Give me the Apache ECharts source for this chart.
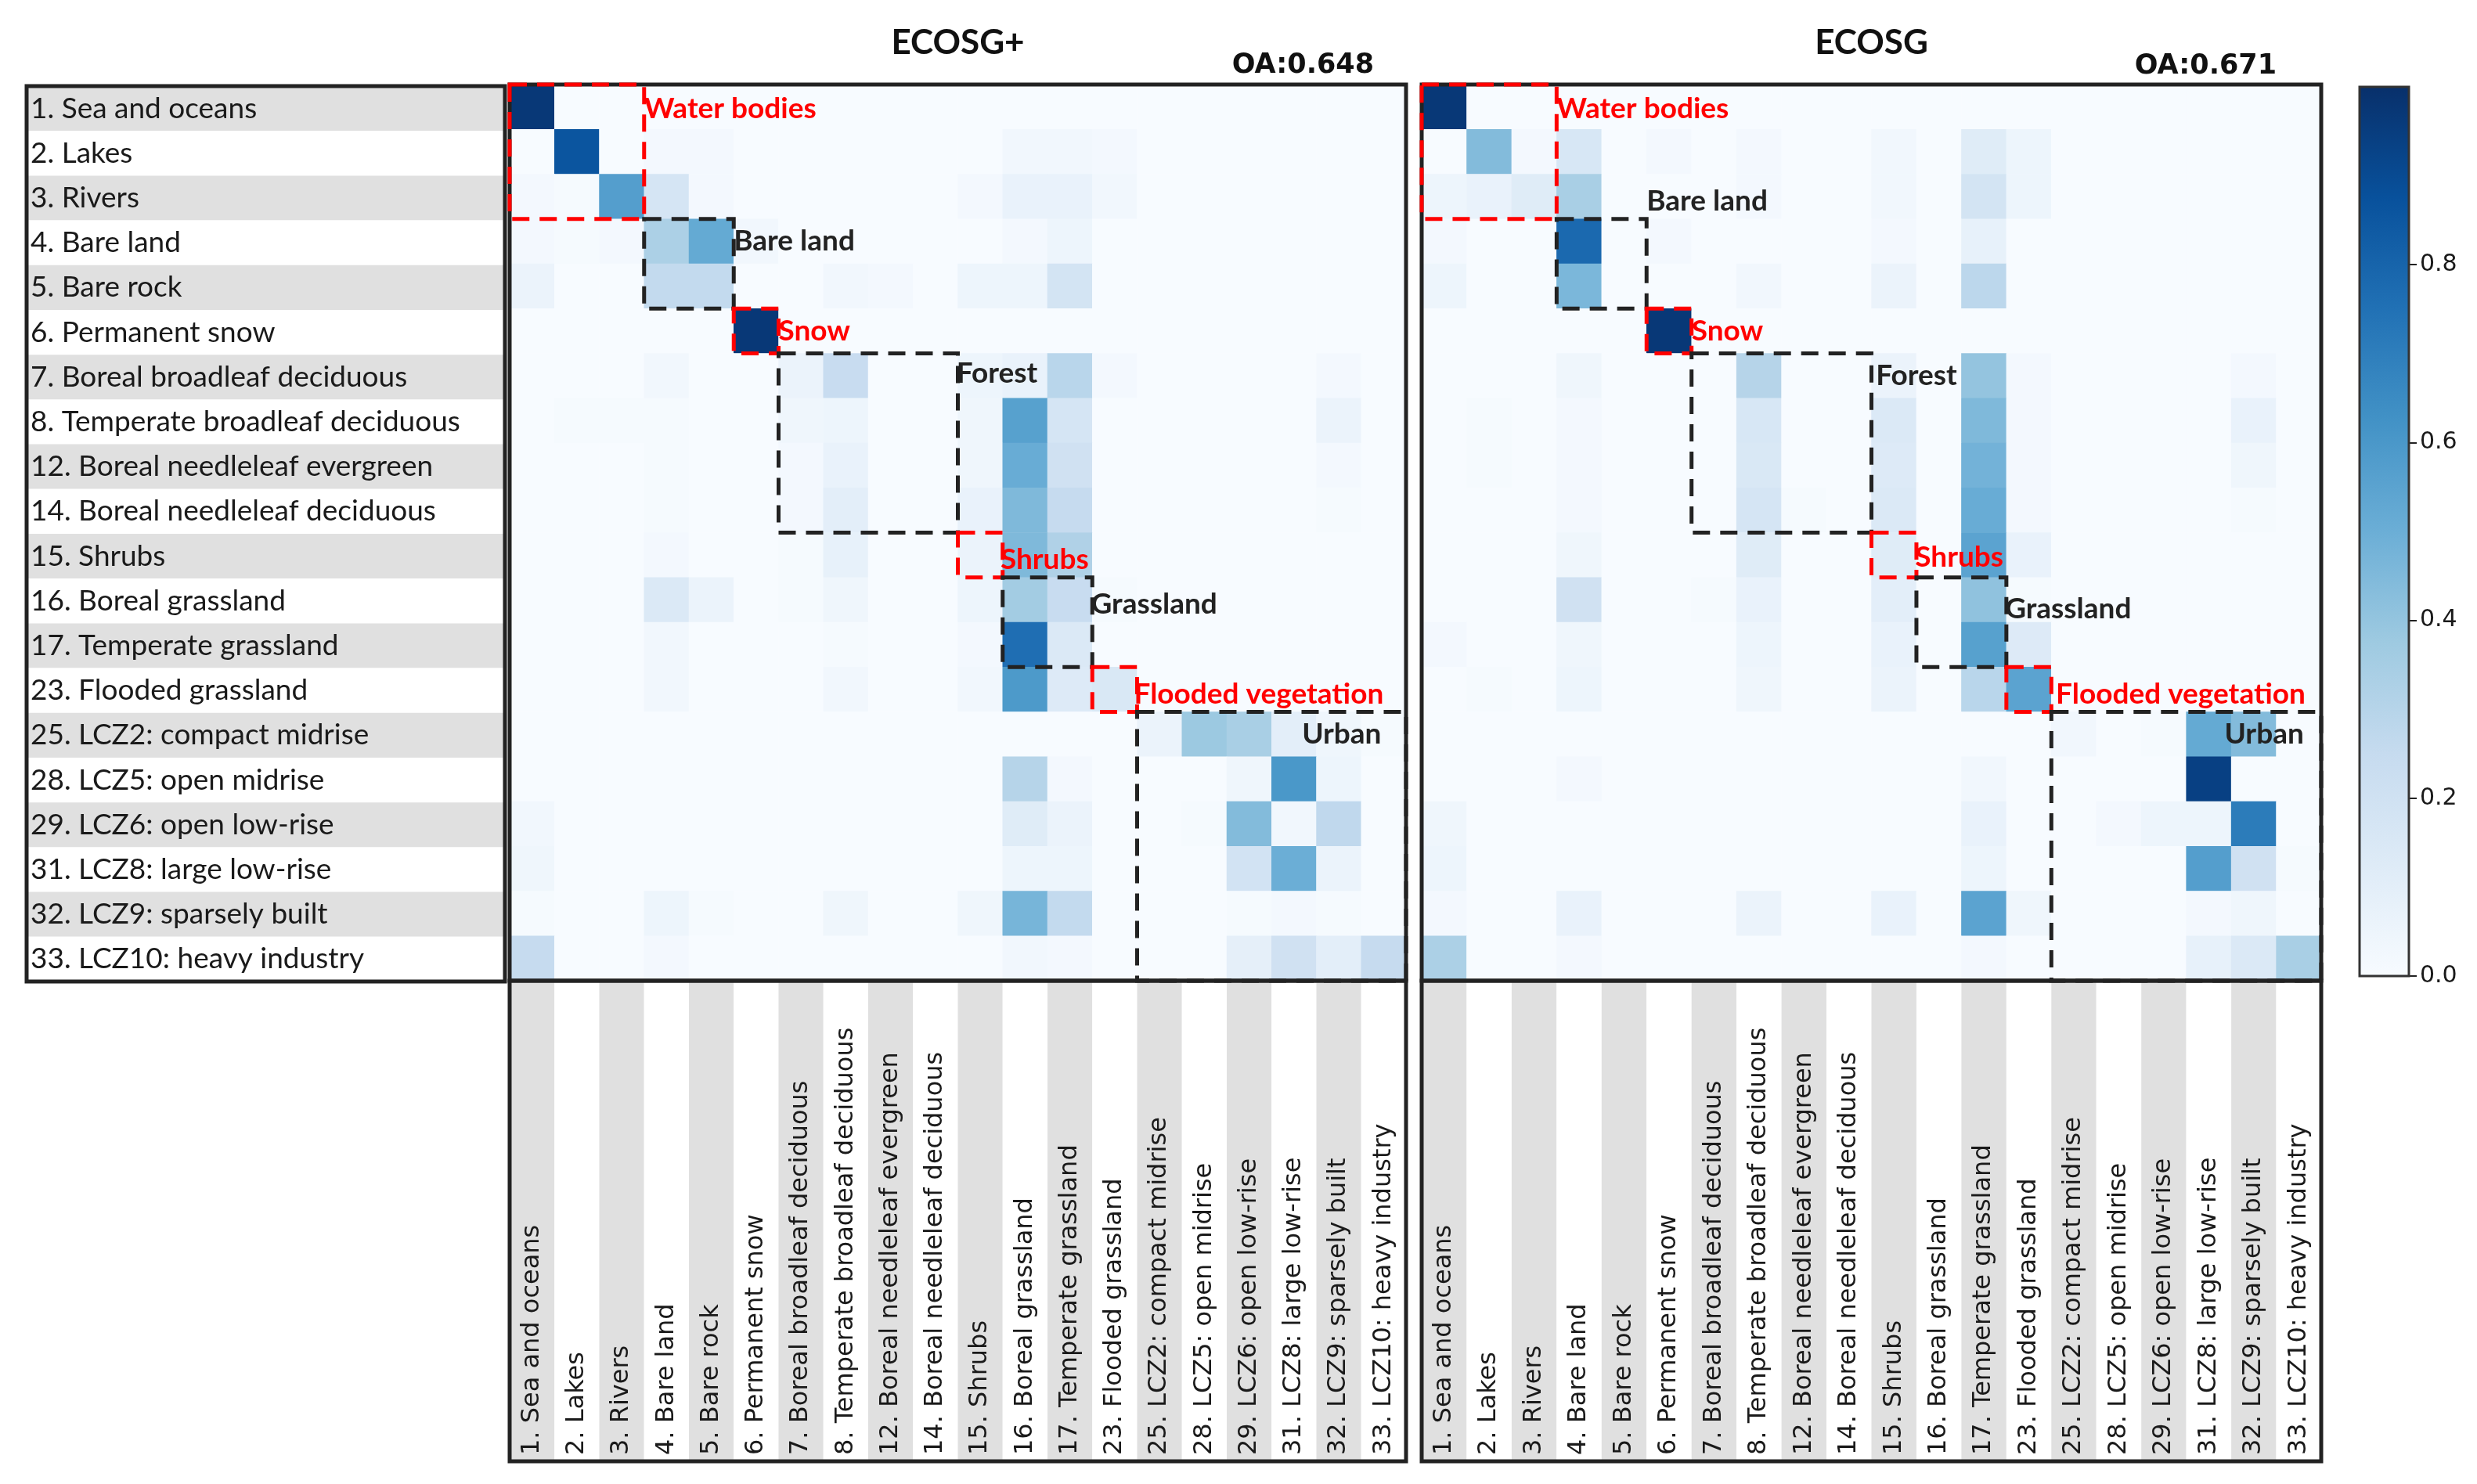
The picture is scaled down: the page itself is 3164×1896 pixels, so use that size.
<!DOCTYPE html>
<html><head><meta charset="utf-8">
<script src="https://cdn.jsdelivr.net/npm/echarts@6/dist/echarts.min.js"></script>
<style>html,body{margin:0;padding:0;background:#fff}#c{width:3164px;height:1896px}</style>
</head><body><div id="c"></div>
<script>
// ---------------- data ----------------
const classLabels = [
  "1. Sea and oceans","2. Lakes","3. Rivers","4. Bare land","5. Bare rock","6. Permanent snow",
  "7. Boreal broadleaf deciduous","8. Temperate broadleaf deciduous","12. Boreal needleleaf evergreen",
  "14. Boreal needleleaf deciduous","15. Shrubs","16. Boreal grassland","17. Temperate grassland",
  "23. Flooded grassland","25. LCZ2: compact midrise","28. LCZ5: open midrise","29. LCZ6: open low-rise",
  "31. LCZ8: large low-rise","32. LCZ9: sparsely built","33. LCZ10: heavy industry"
];
const panelTitles = ["ECOSG+", "ECOSG"];
const overallAccuracy = ["OA:0.648", "OA:0.671"];
const colorbarTicks = [0, 0.2, 0.4, 0.6, 0.8];

// rows = reference class, columns = mapped class (20 x 20)
const ecosgPlus = [
  [0.97,0,0,0,0,0,0,0,0,0,0,0,0,0,0,0,0,0,0,0],
  [0,0.86,0,0.02,0.02,0,0,0,0,0,0,0.03,0.03,0.02,0,0,0,0,0,0],
  [0.02,0.01,0.57,0.17,0.02,0,0,0,0,0,0.02,0.07,0.07,0.03,0,0,0,0,0,0],
  [0.02,0.01,0.02,0.33,0.52,0.03,0,0,0,0,0,0.02,0.05,0,0,0,0,0,0,0],
  [0.06,0,0,0.26,0.26,0,0,0.03,0.02,0,0.05,0.05,0.18,0,0,0,0,0,0,0],
  [0,0,0,0,0,0.97,0,0,0,0,0,0,0,0,0,0,0,0,0,0],
  [0,0,0,0.03,0,0,0.06,0.24,0,0,0.05,0.07,0.29,0.02,0,0,0,0,0.02,0],
  [0,0.01,0.01,0.01,0,0,0.04,0.05,0,0,0.04,0.56,0.17,0,0,0,0,0,0.06,0],
  [0,0,0,0.01,0,0,0.02,0.07,0,0,0.04,0.51,0.2,0,0,0,0,0,0.02,0],
  [0,0,0,0.01,0,0,0.02,0.1,0,0,0.07,0.45,0.25,0,0,0,0,0,0.01,0],
  [0,0,0,0.02,0,0,0.01,0.08,0,0,0.06,0.45,0.32,0,0,0,0,0,0,0],
  [0,0,0,0.14,0.06,0,0.01,0.04,0,0,0.05,0.36,0.24,0.01,0,0,0,0,0,0],
  [0,0,0,0.03,0,0,0,0.01,0,0,0.02,0.76,0.14,0,0,0,0,0,0,0],
  [0,0,0,0.03,0,0,0,0.03,0,0,0.03,0.59,0.13,0.15,0,0,0,0,0,0],
  [0,0,0,0,0,0,0,0,0,0,0,0,0,0,0.06,0.38,0.34,0.1,0.04,0.01],
  [0,0,0,0,0,0,0,0,0,0,0,0.3,0.02,0,0,0,0.04,0.6,0.05,0],
  [0.03,0,0,0,0,0,0,0,0,0,0,0.12,0.06,0,0,0.01,0.44,0.03,0.27,0],
  [0.04,0,0,0,0,0,0,0,0,0,0,0.05,0.05,0,0,0,0.19,0.5,0.06,0],
  [0.01,0,0,0.05,0.01,0,0,0.04,0,0,0.04,0.47,0.26,0,0,0,0.01,0.02,0.01,0],
  [0.25,0,0,0.02,0,0,0,0,0,0,0,0.03,0.02,0,0,0,0.09,0.2,0.1,0.25]
];
const ecosg = [
  [0.97,0,0,0,0,0,0,0,0,0,0,0,0,0,0,0,0,0,0,0],
  [0,0.44,0.02,0.16,0,0.02,0,0.02,0,0,0.03,0,0.12,0.05,0,0,0,0,0,0],
  [0.05,0.07,0.12,0.34,0,0,0,0.02,0,0,0.03,0,0.18,0.05,0,0,0,0,0,0],
  [0.02,0,0,0.78,0,0.02,0,0,0,0,0.02,0,0.08,0,0,0,0,0,0,0],
  [0.05,0,0,0.46,0,0,0,0.03,0,0,0.06,0,0.28,0,0,0,0,0,0,0],
  [0,0,0,0,0,0.97,0,0,0,0,0,0,0,0,0,0,0,0,0,0],
  [0,0,0,0.04,0,0,0,0.3,0,0,0.06,0,0.4,0.02,0,0,0,0,0.02,0],
  [0,0.01,0,0.02,0,0,0,0.16,0,0,0.14,0,0.45,0.02,0,0,0,0,0.07,0],
  [0,0.01,0,0.02,0,0,0,0.15,0,0,0.13,0,0.48,0.02,0,0,0,0,0.04,0],
  [0,0,0,0.02,0,0,0,0.17,0.01,0,0.14,0,0.51,0.02,0,0,0,0,0.01,0],
  [0,0,0,0.04,0,0,0,0.12,0,0,0.12,0,0.55,0.07,0,0,0,0,0,0],
  [0,0,0,0.2,0,0,0.01,0.07,0,0,0.1,0,0.41,0.01,0,0,0,0,0,0],
  [0.02,0,0,0.04,0,0,0,0.05,0,0,0.07,0,0.56,0.13,0,0,0,0,0,0],
  [0,0.01,0,0.05,0,0,0,0.04,0,0,0.06,0,0.29,0.55,0,0,0,0,0,0],
  [0,0,0,0,0,0,0,0,0,0,0,0,0,0,0.03,0,0.01,0.52,0.44,0],
  [0,0,0,0.02,0,0,0,0,0,0,0,0,0.03,0,0,0,0,0.94,0,0],
  [0.04,0,0,0,0,0,0,0,0,0,0,0,0.07,0,0,0.02,0.05,0.05,0.71,0],
  [0.05,0,0,0,0,0,0,0,0,0,0,0,0.05,0,0,0,0,0.57,0.2,0.01],
  [0.02,0,0,0.07,0,0,0,0.06,0,0,0.07,0,0.55,0.04,0,0,0,0.02,0.04,0],
  [0.33,0,0,0.02,0,0,0,0,0,0,0,0,0.02,0,0,0,0,0.08,0.14,0.34]
];

// class groups: cell range (0-based col/row) and label anchor (cell units)
const groupsPlus = [
  {name:"Water bodies", x0:0, x1:2, y0:0, y1:2, color:"#ff0000", tx:3.0, ty:0.05},
  {name:"Bare land", x0:3, x1:4, y0:3, y1:4, color:"#222222", tx:5.0, ty:3.0},
  {name:"Snow", x0:5, x1:5, y0:5, y1:5, color:"#ff0000", tx:6.0, ty:5.0},
  {name:"Forest", x0:6, x1:9, y0:6, y1:9, color:"#222222", tx:9.97, ty:5.95},
  {name:"Shrubs", x0:10, x1:10, y0:10, y1:10, color:"#ff0000", tx:10.95, ty:10.1},
  {name:"Grassland", x0:11, x1:12, y0:11, y1:12, color:"#222222", tx:12.97, ty:11.1},
  {name:"Flooded vegetation", x0:13, x1:13, y0:13, y1:13, color:"#ff0000", tx:13.93, ty:13.1},
  {name:"Urban", x0:14, x1:19, y0:14, y1:19, color:"#222222", tx:17.68, ty:14.0}
];
const groupsOrig = [
  {name:"Water bodies", x0:0, x1:2, y0:0, y1:2, color:"#ff0000", tx:3.0, ty:0.05},
  {name:"Bare land", x0:3, x1:4, y0:3, y1:4, color:"#222222", tx:5.0, ty:2.1},
  {name:"Snow", x0:5, x1:5, y0:5, y1:5, color:"#ff0000", tx:6.0, ty:5.0},
  {name:"Forest", x0:6, x1:9, y0:6, y1:9, color:"#222222", tx:10.1, ty:6.0},
  {name:"Shrubs", x0:10, x1:10, y0:10, y1:10, color:"#ff0000", tx:10.97, ty:10.05},
  {name:"Grassland", x0:11, x1:12, y0:11, y1:12, color:"#222222", tx:12.97, ty:11.2},
  {name:"Flooded vegetation", x0:13, x1:13, y0:13, y1:13, color:"#ff0000", tx:14.1, ty:13.1},
  {name:"Urban", x0:14, x1:19, y0:14, y1:19, color:"#222222", tx:17.85, ty:14.0}
];

// ---------------- layout / style ----------------
const BLUES = ['#f7fbff','#deebf7','#c6dbef','#9ecae1','#6baed6','#4292c6','#2171b5','#08519c','#08306b'];
const L = {
  left: {x:34, y:110, w:611, h:1144},
  m1:   {x:651, y:108, w:1145, h:1145},
  m2:   {x:1816, y:108, w:1149, h:1145},
  b1:   {x:651, y:1253, w:1145, h:614},
  b2:   {x:1816, y:1253, w:1149, h:614},
  cb:   {x:3014, y:111, w:63, h:1136}
};
const gridOf = r => ({left:r.x, top:r.y, width:r.w, height:r.h, containLabel:false});

function toCells(m) {
  const out = [];
  m.forEach((row, i) => row.forEach((v, j) => out.push([j, i, v])));
  return out;
}

const hiddenCat = (gi, inverse) => ({
  type:'category', gridIndex:gi, data:classLabels, inverse:!!inverse,
  axisLine:{show:false}, axisTick:{show:false}, axisLabel:{show:false}, splitLine:{show:false}
});

function matrixYAxis(gi) {
  return {
    type:'category', gridIndex:gi, data:classLabels, inverse:true,
    axisLine:{show:false}, axisLabel:{show:false}, splitLine:{show:false},
    axisTick:{show:true, inside:true, length:5, alignWithLabel:true, interval:0, lineStyle:{color:'#222', width:2}}
  };
}

function boxSeries(groups, gi) {
  return {
    type:'custom', xAxisIndex:gi, yAxisIndex:gi, z:10, silent:true, clip:false,
    data: groups.map(g => [g.x0, g.y0, g.x1, g.y1]),
    encode:{x:[0,2], y:[1,3]},
    renderItem:(params, api) => {
      const g = groups[params.dataIndex];
      const p0 = api.coord([api.value(0), api.value(1)]);
      const p1 = api.coord([api.value(2), api.value(3)]);
      const sz = api.size([1,1]);
      const cw = sz[0], ch = sz[1];
      const x = Math.min(p0[0], p1[0]) - cw/2, y = Math.min(p0[1], p1[1]) - ch/2;
      const w = Math.abs(p1[0]-p0[0]) + cw, h = Math.abs(p1[1]-p0[1]) + ch;
      const o = api.coord([0,0]);
      const tx = o[0] - cw/2 + g.tx*cw;
      const ty = o[1] + g.ty*ch;
      return {type:'group', children:[
        {type:'rect', shape:{x:x, y:y, width:w, height:h},
         style:{fill:null, stroke:g.color, lineWidth:5, lineDash:[22,13]}},
        {type:'text', x:tx, y:ty,
         style:{text:g.name, fill:g.color, font:'bold 37px Lato', align:'left', verticalAlign:'middle',
                textAlign:'left', textVerticalAlign:'middle'}}
      ]};
    }
  };
}

function frameSeries(gi) {
  return {
    type:'custom', xAxisIndex:gi, yAxisIndex:gi, z:5, silent:true, clip:false,
    data:[[0, 0, classLabels.length-1, classLabels.length-1]],
    encode:{x:[0,2], y:[1,3]},
    renderItem:(params, api) => {
      const p0 = api.coord([api.value(0), api.value(1)]);
      const p1 = api.coord([api.value(2), api.value(3)]);
      const sz = api.size([1,1]);
      const x = Math.min(p0[0], p1[0]) - sz[0]/2, y = Math.min(p0[1], p1[1]) - sz[1]/2;
      return {type:'rect', shape:{x:x, y:y, width:Math.abs(p1[0]-p0[0])+sz[0], height:Math.abs(p1[1]-p0[1])+sz[1]},
              style:{fill:null, stroke:'#222', lineWidth:5}};
    }
  };
}

const frameRect = (r, lw, color) => ({
  type:'rect', z:6, silent:true,
  shape:{x:r.x, y:r.y, width:r.w, height:r.h},
  style:{fill:null, stroke:color || '#222', lineWidth:lw}
});

const chart = echarts.init(document.getElementById('c'), null, {renderer:'canvas'});

const option = {
  animation:false,
  backgroundColor:'#ffffff',
  grid:[gridOf(L.left), gridOf(L.m1), gridOf(L.m2), gridOf(L.b1), gridOf(L.b2), gridOf(L.cb)],
  xAxis:[
    {type:'value', gridIndex:0, show:false, min:0, max:1},
    hiddenCat(1), hiddenCat(2),
    {type:'category', gridIndex:3, data:classLabels, position:'bottom',
     axisLine:{show:false}, axisTick:{show:false}, splitLine:{show:false},
     splitArea:{show:true, interval:0, areaStyle:{color:['#e0e0e0','#ffffff']}},
     axisLabel:{inside:true, rotate:90, interval:0, margin:8, fontFamily:'DejaVu Sans', fontSize:32, color:'#1a1a1a'}},
    {type:'category', gridIndex:4, data:classLabels, position:'bottom',
     axisLine:{show:false}, axisTick:{show:false}, splitLine:{show:false},
     splitArea:{show:true, interval:0, areaStyle:{color:['#e0e0e0','#ffffff']}},
     axisLabel:{inside:true, rotate:90, interval:0, margin:8, fontFamily:'DejaVu Sans', fontSize:32, color:'#1a1a1a'}},
    {type:'category', gridIndex:5, data:[''], show:false}
  ],
  yAxis:[
    {type:'category', gridIndex:0, data:classLabels, inverse:true,
     axisLine:{show:false}, axisTick:{show:false}, splitLine:{show:false},
     splitArea:{show:true, interval:0, areaStyle:{color:['#e0e0e0','#ffffff']}},
     axisLabel:{inside:true, interval:0, margin:5, padding:[8,0,0,0], fontFamily:'Lato', fontSize:37, color:'#1a1a1a'}},
    matrixYAxis(1), matrixYAxis(2),
    {type:'value', gridIndex:3, show:false, min:0, max:1},
    {type:'value', gridIndex:4, show:false, min:0, max:1},
    {type:'value', gridIndex:5, min:0, max:1, interval:0.2, position:'right',
     axisLine:{show:false}, splitLine:{show:false},
     axisTick:{show:true, length:10, customValues:colorbarTicks, lineStyle:{color:'#222', width:2}},
     axisLabel:{show:true, customValues:colorbarTicks, margin:14, fontFamily:'DejaVu Sans', fontSize:30, color:'#1a1a1a',
                formatter:v => Number(v).toFixed(1)}}
  ],
  visualMap:{type:'continuous', show:false, min:0, max:1, seriesIndex:[0,1], inRange:{color:BLUES}},
  series:[
    {type:'heatmap', xAxisIndex:1, yAxisIndex:1, data:toCells(ecosgPlus), silent:true, z:2, emphasis:{disabled:true}},
    {type:'heatmap', xAxisIndex:2, yAxisIndex:2, data:toCells(ecosg), silent:true, z:2, emphasis:{disabled:true}},
    frameSeries(1), frameSeries(2),
    boxSeries(groupsPlus, 1), boxSeries(groupsOrig, 2),
    {type:'bar', xAxisIndex:5, yAxisIndex:5, data:[1], barWidth:'100%', silent:true,
     itemStyle:{color:new echarts.graphic.LinearGradient(0,1,0,0,
       BLUES.map((c,i) => ({offset:i/(BLUES.length-1), color:c})))}}
  ],
  graphic:[
    frameRect(L.left, 5), frameRect(L.b1, 5), frameRect(L.b2, 5), frameRect(L.cb, 3, '#333'),
    {type:'text', z:7, silent:true, x:L.m1.x + L.m1.w/2, y:55,
     style:{text:panelTitles[0], font:'bold 44px Lato', fill:'#111', align:'center', verticalAlign:'middle'}},
    {type:'text', z:7, silent:true, x:L.m2.x + L.m2.w/2, y:55,
     style:{text:panelTitles[1], font:'bold 44px Lato', fill:'#111', align:'center', verticalAlign:'middle'}},
    {type:'text', z:7, silent:true, x:1755, y:84,
     style:{text:overallAccuracy[0], font:'bold 35px "DejaVu Sans"', fill:'#111', align:'right', verticalAlign:'middle'}},
    {type:'text', z:7, silent:true, x:2908, y:85,
     style:{text:overallAccuracy[1], font:'bold 35px "DejaVu Sans"', fill:'#111', align:'right', verticalAlign:'middle'}}
  ]
};
chart.setOption(option);
</script>
</body></html>
